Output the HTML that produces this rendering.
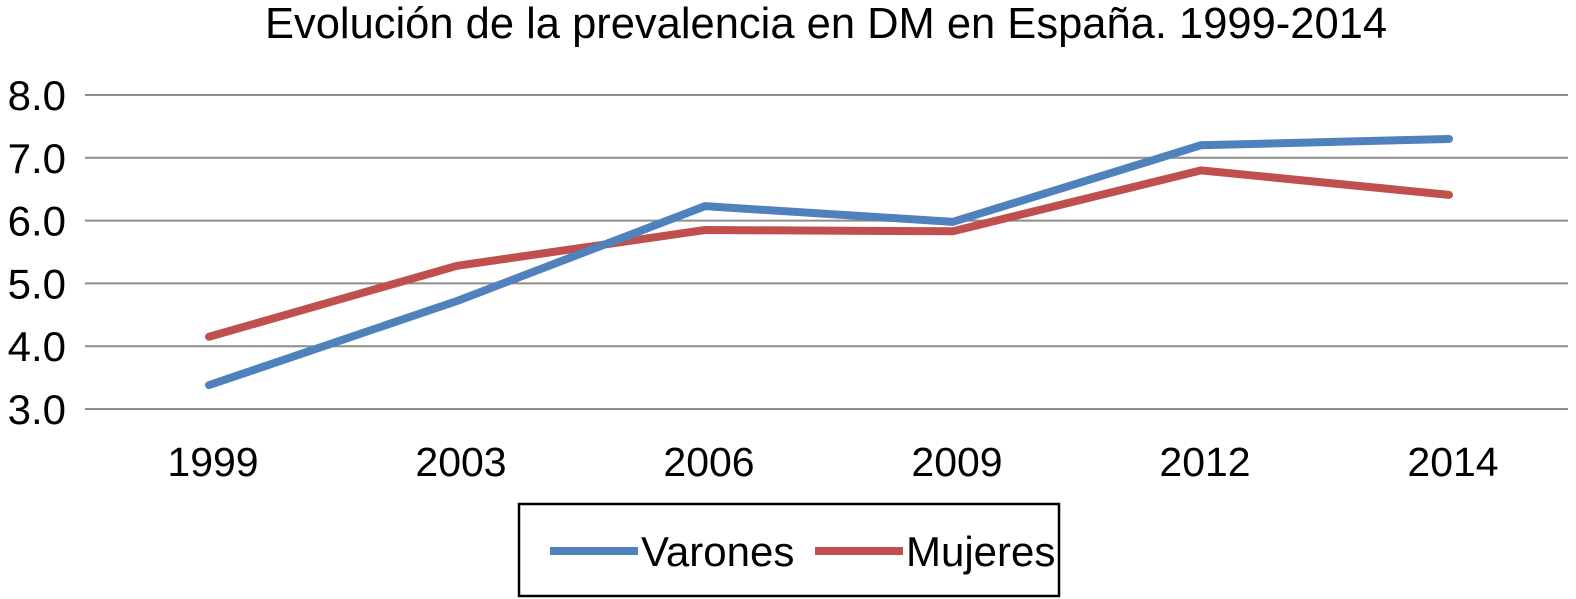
<!DOCTYPE html>
<html><head><meta charset="utf-8"><style>
html,body{margin:0;padding:0;background:#fff;}
svg{display:block;font-family:"Liberation Sans",Arial,sans-serif;}
</style></head><body>
<svg id="chart" width="1576" height="599" viewBox="0 0 1576 599" xmlns="http://www.w3.org/2000/svg">
<text x="826" y="38" font-size="43.5" text-anchor="middle" fill="#000">Evolución de la prevalencia en DM en España. 1999-2014</text>
<g id="grid"></g><g id="yticks"></g><g id="xticks"></g><g id="series"></g>
<rect x="519" y="504" width="540" height="92" fill="#fff" stroke="#000" stroke-width="2.5"/>
<line x1="550" y1="551" x2="638" y2="551" stroke="#4F81BD" stroke-width="8"/>
<text x="641" y="566" font-size="42">Varones</text>
<line x1="815" y1="551" x2="903" y2="551" stroke="#C0504D" stroke-width="8"/>
<text x="906" y="566" font-size="42">Mujeres</text>
</svg>
<script>
const categories=["1999","2003","2006","2009","2012","2014"];
const varones=[3.38,4.72,6.23,5.98,7.2,7.3];
const mujeres=[4.15,5.28,5.85,5.83,6.8,6.41];
const yTicks=[3,4,5,6,7,8];
const yTickLabels=["3.0","4.0","5.0","6.0","7.0","8.0"];
const NS="http://www.w3.org/2000/svg";
const x0=85,step=248,yBase=409,unit=62.8;
const xs=i=>x0+step*(i+0.5);
const ys=v=>yBase-(v-3)*unit;
function mk(t,a,p){const e=document.createElementNS(NS,t);for(const k in a)e.setAttribute(k,a[k]);p.appendChild(e);return e;}
const grid=document.getElementById('grid'),yt=document.getElementById('yticks'),xt=document.getElementById('xticks'),se=document.getElementById('series');
yTicks.forEach((v,i)=>{
 const l=mk('line',{x1:85,x2:1568,y1:ys(v),y2:ys(v),stroke:'#8c8c8c','stroke-width':2},grid);
 
 
 const t=mk('text',{x:66,y:ys(v)+15,'font-size':42,'text-anchor':'end'},yt);
 t.textContent=yTickLabels[i];
 
 
});
categories.forEach((c,i)=>{
 const t=mk('text',{x:xs(i)+4,y:476,'font-size':41,'text-anchor':'middle'},xt);
 t.textContent=c;
 
 
});
function line(data,color,name){
 const p=mk('polyline',{points:data.map((v,i)=>xs(i)+','+ys(v)).join(' '),fill:'none',stroke:color,'stroke-width':8,'stroke-linecap':'round','stroke-linejoin':'round'},se);
 
 
}
line(mujeres,'#C0504D','mujeres-line');
line(varones,'#4F81BD','varones-line');
</script>
</body></html>
